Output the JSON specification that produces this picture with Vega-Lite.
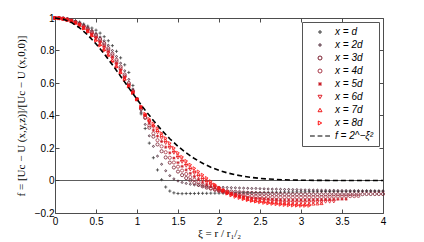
{
"$schema": "https://vega.github.io/schema/vega-lite/v6.json",
"autosize": "none",
"width": 328,
"height": 195,
"padding": {"left": 55, "top": 18, "right": 41, "bottom": 29},
"background": "white",
"config": {
 "view": {"stroke": "#4d4d4d", "strokeWidth": 1},
 "axis": {"labelFont": "Liberation Sans", "labelFontSize": 10, "labelColor": "#000", "tickColor": "#4d4d4d", "domain": false, "grid": false, "tickSize": -4, "titleFont": "Liberation Serif", "titleFontWeight": "normal", "titleFontSize": 11, "titleColor": "#000"}
},
"datasets": {
 "pts": [
{"s":"d","x":0,"f":1},{"s":"d","x":0.05,"f":0.999},{"s":"d","x":0.1,"f":0.998},{"s":"d","x":0.15,"f":0.995},{"s":"d","x":0.2,"f":0.99},{"s":"d","x":0.25,"f":0.983},{"s":"d","x":0.3,"f":0.975},{"s":"d","x":0.35,"f":0.963},{"s":"d","x":0.4,"f":0.95},{"s":"d","x":0.45,"f":0.938},{"s":"d","x":0.5,"f":0.925},{"s":"d","x":0.55,"f":0.907},{"s":"d","x":0.6,"f":0.885},{"s":"d","x":0.65,"f":0.86},{"s":"d","x":0.7,"f":0.83},{"s":"d","x":0.75,"f":0.795},{"s":"d","x":0.8,"f":0.755},{"s":"d","x":0.85,"f":0.712},{"s":"d","x":0.9,"f":0.665},{"s":"d","x":0.95,"f":0.585},{"s":"d","x":1,"f":0.5},{"s":"d","x":1.05,"f":0.41},{"s":"d","x":1.1,"f":0.32},{"s":"d","x":1.15,"f":0.23},{"s":"d","x":1.2,"f":0.14},{"s":"d","x":1.25,"f":0.065},{"s":"d","x":1.3,"f":0.005},{"s":"d","x":1.35,"f":-0.04},{"s":"d","x":1.4,"f":-0.065},{"s":"d","x":1.45,"f":-0.076},{"s":"d","x":1.5,"f":-0.08},{"s":"d","x":1.55,"f":-0.081},{"s":"d","x":1.6,"f":-0.08},{"s":"d","x":1.65,"f":-0.08},{"s":"d","x":1.7,"f":-0.08},{"s":"d","x":1.75,"f":-0.079},{"s":"d","x":1.8,"f":-0.079},{"s":"d","x":1.85,"f":-0.079},{"s":"d","x":1.9,"f":-0.078},{"s":"d","x":1.95,"f":-0.078},{"s":"d","x":2,"f":-0.078},{"s":"d","x":2.05,"f":-0.078},{"s":"d","x":2.1,"f":-0.077},{"s":"d","x":2.15,"f":-0.077},{"s":"d","x":2.2,"f":-0.076},{"s":"d","x":2.25,"f":-0.076},{"s":"d","x":2.3,"f":-0.075},{"s":"d","x":2.35,"f":-0.075},{"s":"d","x":2.4,"f":-0.075},{"s":"d","x":2.45,"f":-0.074},{"s":"d","x":2.5,"f":-0.074},{"s":"d","x":2.55,"f":-0.073},{"s":"d","x":2.6,"f":-0.073},{"s":"d","x":2.65,"f":-0.072},{"s":"d","x":2.7,"f":-0.072},{"s":"d","x":2.75,"f":-0.072},{"s":"d","x":2.8,"f":-0.071},{"s":"d","x":2.85,"f":-0.071},{"s":"d","x":2.9,"f":-0.071},{"s":"d","x":2.95,"f":-0.07},{"s":"d","x":3,"f":-0.07},{"s":"d","x":3.05,"f":-0.07},{"s":"d","x":3.1,"f":-0.069},{"s":"d","x":3.15,"f":-0.069},{"s":"d","x":3.2,"f":-0.069},{"s":"d","x":3.25,"f":-0.068},{"s":"d","x":3.3,"f":-0.068},{"s":"d","x":3.35,"f":-0.068},{"s":"d","x":3.4,"f":-0.067},{"s":"d","x":3.45,"f":-0.067},{"s":"d","x":3.5,"f":-0.067},{"s":"d","x":3.55,"f":-0.067},{"s":"d","x":3.6,"f":-0.066},{"s":"d","x":3.65,"f":-0.066},{"s":"d","x":3.7,"f":-0.066},{"s":"d","x":3.75,"f":-0.066},{"s":"d","x":3.8,"f":-0.065},{"s":"d","x":3.85,"f":-0.065},{"s":"d","x":3.9,"f":-0.065},{"s":"d","x":3.95,"f":-0.065},{"s":"d","x":4,"f":-0.065},
{"s":"2d","x":0,"f":1},{"s":"2d","x":0.05,"f":0.999},{"s":"2d","x":0.1,"f":0.997},{"s":"2d","x":0.15,"f":0.993},{"s":"2d","x":0.2,"f":0.987},{"s":"2d","x":0.25,"f":0.98},{"s":"2d","x":0.3,"f":0.97},{"s":"2d","x":0.35,"f":0.956},{"s":"2d","x":0.4,"f":0.94},{"s":"2d","x":0.45,"f":0.923},{"s":"2d","x":0.5,"f":0.905},{"s":"2d","x":0.55,"f":0.883},{"s":"2d","x":0.6,"f":0.86},{"s":"2d","x":0.65,"f":0.832},{"s":"2d","x":0.7,"f":0.8},{"s":"2d","x":0.75,"f":0.763},{"s":"2d","x":0.8,"f":0.722},{"s":"2d","x":0.85,"f":0.675},{"s":"2d","x":0.9,"f":0.622},{"s":"2d","x":0.95,"f":0.563},{"s":"2d","x":1,"f":0.5},{"s":"2d","x":1.05,"f":0.42},{"s":"2d","x":1.1,"f":0.345},{"s":"2d","x":1.15,"f":0.275},{"s":"2d","x":1.2,"f":0.21},{"s":"2d","x":1.25,"f":0.15},{"s":"2d","x":1.3,"f":0.1},{"s":"2d","x":1.35,"f":0.06},{"s":"2d","x":1.4,"f":0.03},{"s":"2d","x":1.45,"f":0.01},{"s":"2d","x":1.5,"f":-0.003},{"s":"2d","x":1.55,"f":-0.012},{"s":"2d","x":1.6,"f":-0.018},{"s":"2d","x":1.65,"f":-0.023},{"s":"2d","x":1.7,"f":-0.027},{"s":"2d","x":1.75,"f":-0.031},{"s":"2d","x":1.8,"f":-0.034},{"s":"2d","x":1.85,"f":-0.036},{"s":"2d","x":1.9,"f":-0.038},{"s":"2d","x":1.95,"f":-0.04},{"s":"2d","x":2,"f":-0.041},{"s":"2d","x":2.05,"f":-0.042},{"s":"2d","x":2.1,"f":-0.043},{"s":"2d","x":2.15,"f":-0.044},{"s":"2d","x":2.2,"f":-0.045},{"s":"2d","x":2.25,"f":-0.046},{"s":"2d","x":2.3,"f":-0.047},{"s":"2d","x":2.35,"f":-0.048},{"s":"2d","x":2.4,"f":-0.049},{"s":"2d","x":2.45,"f":-0.049},{"s":"2d","x":2.5,"f":-0.05},{"s":"2d","x":2.55,"f":-0.051},{"s":"2d","x":2.6,"f":-0.052},{"s":"2d","x":2.65,"f":-0.053},{"s":"2d","x":2.7,"f":-0.053},{"s":"2d","x":2.75,"f":-0.054},{"s":"2d","x":2.8,"f":-0.055},{"s":"2d","x":2.85,"f":-0.055},{"s":"2d","x":2.9,"f":-0.056},{"s":"2d","x":2.95,"f":-0.056},{"s":"2d","x":3,"f":-0.057},{"s":"2d","x":3.05,"f":-0.058},{"s":"2d","x":3.1,"f":-0.058},{"s":"2d","x":3.15,"f":-0.059},{"s":"2d","x":3.2,"f":-0.059},{"s":"2d","x":3.25,"f":-0.06},{"s":"2d","x":3.3,"f":-0.06},{"s":"2d","x":3.35,"f":-0.061},{"s":"2d","x":3.4,"f":-0.061},{"s":"2d","x":3.45,"f":-0.062},{"s":"2d","x":3.5,"f":-0.062},{"s":"2d","x":3.55,"f":-0.062},{"s":"2d","x":3.6,"f":-0.063},{"s":"2d","x":3.65,"f":-0.063},{"s":"2d","x":3.7,"f":-0.063},{"s":"2d","x":3.75,"f":-0.064},{"s":"2d","x":3.8,"f":-0.064},{"s":"2d","x":3.85,"f":-0.064},{"s":"2d","x":3.9,"f":-0.065},{"s":"2d","x":3.95,"f":-0.065},{"s":"2d","x":4,"f":-0.065},
{"s":"3d","x":0,"f":1},{"s":"3d","x":0.05,"f":0.999},{"s":"3d","x":0.1,"f":0.997},{"s":"3d","x":0.15,"f":0.992},{"s":"3d","x":0.2,"f":0.985},{"s":"3d","x":0.25,"f":0.976},{"s":"3d","x":0.3,"f":0.965},{"s":"3d","x":0.35,"f":0.951},{"s":"3d","x":0.4,"f":0.935},{"s":"3d","x":0.45,"f":0.916},{"s":"3d","x":0.5,"f":0.895},{"s":"3d","x":0.55,"f":0.871},{"s":"3d","x":0.6,"f":0.845},{"s":"3d","x":0.65,"f":0.814},{"s":"3d","x":0.7,"f":0.78},{"s":"3d","x":0.75,"f":0.742},{"s":"3d","x":0.8,"f":0.7},{"s":"3d","x":0.85,"f":0.652},{"s":"3d","x":0.9,"f":0.6},{"s":"3d","x":0.95,"f":0.552},{"s":"3d","x":1,"f":0.5},{"s":"3d","x":1.05,"f":0.44},{"s":"3d","x":1.1,"f":0.385},{"s":"3d","x":1.15,"f":0.325},{"s":"3d","x":1.2,"f":0.27},{"s":"3d","x":1.25,"f":0.222},{"s":"3d","x":1.3,"f":0.18},{"s":"3d","x":1.35,"f":0.142},{"s":"3d","x":1.4,"f":0.11},{"s":"3d","x":1.45,"f":0.08},{"s":"3d","x":1.5,"f":0.055},{"s":"3d","x":1.55,"f":0.033},{"s":"3d","x":1.6,"f":0.015},{"s":"3d","x":1.65,"f":0},{"s":"3d","x":1.7,"f":-0.015},{"s":"3d","x":1.75,"f":-0.026},{"s":"3d","x":1.8,"f":-0.036},{"s":"3d","x":1.85,"f":-0.044},{"s":"3d","x":1.9,"f":-0.05},{"s":"3d","x":1.95,"f":-0.055},{"s":"3d","x":2,"f":-0.06},{"s":"3d","x":2.05,"f":-0.063},{"s":"3d","x":2.1,"f":-0.066},{"s":"3d","x":2.15,"f":-0.068},{"s":"3d","x":2.2,"f":-0.07},{"s":"3d","x":2.25,"f":-0.072},{"s":"3d","x":2.3,"f":-0.074},{"s":"3d","x":2.35,"f":-0.076},{"s":"3d","x":2.4,"f":-0.077},{"s":"3d","x":2.45,"f":-0.079},{"s":"3d","x":2.5,"f":-0.08},{"s":"3d","x":2.55,"f":-0.081},{"s":"3d","x":2.6,"f":-0.082},{"s":"3d","x":2.65,"f":-0.083},{"s":"3d","x":2.7,"f":-0.083},{"s":"3d","x":2.75,"f":-0.084},{"s":"3d","x":2.8,"f":-0.084},{"s":"3d","x":2.85,"f":-0.085},{"s":"3d","x":2.9,"f":-0.085},{"s":"3d","x":2.95,"f":-0.085},{"s":"3d","x":3,"f":-0.085},{"s":"3d","x":3.05,"f":-0.085},{"s":"3d","x":3.1,"f":-0.085},{"s":"3d","x":3.15,"f":-0.085},{"s":"3d","x":3.2,"f":-0.085},{"s":"3d","x":3.25,"f":-0.085},{"s":"3d","x":3.3,"f":-0.085},{"s":"3d","x":3.35,"f":-0.085},{"s":"3d","x":3.4,"f":-0.085},{"s":"3d","x":3.45,"f":-0.085},{"s":"3d","x":3.5,"f":-0.085},{"s":"3d","x":3.55,"f":-0.085},{"s":"3d","x":3.6,"f":-0.084},{"s":"3d","x":3.65,"f":-0.084},{"s":"3d","x":3.7,"f":-0.084},{"s":"3d","x":3.75,"f":-0.084},{"s":"3d","x":3.8,"f":-0.083},{"s":"3d","x":3.85,"f":-0.083},{"s":"3d","x":3.9,"f":-0.083},{"s":"3d","x":3.95,"f":-0.083},{"s":"3d","x":4,"f":-0.083},
{"s":"4d","x":0,"f":1},{"s":"4d","x":0.05,"f":0.999},{"s":"4d","x":0.1,"f":0.996},{"s":"4d","x":0.15,"f":0.991},{"s":"4d","x":0.2,"f":0.984},{"s":"4d","x":0.25,"f":0.974},{"s":"4d","x":0.3,"f":0.962},{"s":"4d","x":0.35,"f":0.947},{"s":"4d","x":0.4,"f":0.93},{"s":"4d","x":0.45,"f":0.909},{"s":"4d","x":0.5,"f":0.885},{"s":"4d","x":0.55,"f":0.861},{"s":"4d","x":0.6,"f":0.835},{"s":"4d","x":0.65,"f":0.804},{"s":"4d","x":0.7,"f":0.77},{"s":"4d","x":0.75,"f":0.731},{"s":"4d","x":0.8,"f":0.69},{"s":"4d","x":0.85,"f":0.642},{"s":"4d","x":0.9,"f":0.59},{"s":"4d","x":0.95,"f":0.546},{"s":"4d","x":1,"f":0.5},{"s":"4d","x":1.05,"f":0.445},{"s":"4d","x":1.1,"f":0.39},{"s":"4d","x":1.15,"f":0.338},{"s":"4d","x":1.2,"f":0.29},{"s":"4d","x":1.25,"f":0.248},{"s":"4d","x":1.3,"f":0.21},{"s":"4d","x":1.35,"f":0.174},{"s":"4d","x":1.4,"f":0.14},{"s":"4d","x":1.45,"f":0.111},{"s":"4d","x":1.5,"f":0.085},{"s":"4d","x":1.55,"f":0.061},{"s":"4d","x":1.6,"f":0.04},{"s":"4d","x":1.65,"f":0.021},{"s":"4d","x":1.7,"f":0.005},{"s":"4d","x":1.75,"f":-0.01},{"s":"4d","x":1.8,"f":-0.025},{"s":"4d","x":1.85,"f":-0.037},{"s":"4d","x":1.9,"f":-0.047},{"s":"4d","x":1.95,"f":-0.057},{"s":"4d","x":2,"f":-0.065},{"s":"4d","x":2.05,"f":-0.071},{"s":"4d","x":2.1,"f":-0.076},{"s":"4d","x":2.15,"f":-0.081},{"s":"4d","x":2.2,"f":-0.085},{"s":"4d","x":2.25,"f":-0.088},{"s":"4d","x":2.3,"f":-0.091},{"s":"4d","x":2.35,"f":-0.094},{"s":"4d","x":2.4,"f":-0.096},{"s":"4d","x":2.45,"f":-0.098},{"s":"4d","x":2.5,"f":-0.1},{"s":"4d","x":2.55,"f":-0.101},{"s":"4d","x":2.6,"f":-0.102},{"s":"4d","x":2.65,"f":-0.103},{"s":"4d","x":2.7,"f":-0.104},{"s":"4d","x":2.75,"f":-0.104},{"s":"4d","x":2.8,"f":-0.105},{"s":"4d","x":2.85,"f":-0.105},{"s":"4d","x":2.9,"f":-0.105},{"s":"4d","x":2.95,"f":-0.105},{"s":"4d","x":3,"f":-0.105},{"s":"4d","x":3.05,"f":-0.104},{"s":"4d","x":3.1,"f":-0.104},{"s":"4d","x":3.15,"f":-0.103},{"s":"4d","x":3.2,"f":-0.103},{"s":"4d","x":3.25,"f":-0.102},{"s":"4d","x":3.3,"f":-0.101},{"s":"4d","x":3.35,"f":-0.1},{"s":"4d","x":3.4,"f":-0.099},{"s":"4d","x":3.45,"f":-0.098},{"s":"4d","x":3.5,"f":-0.098},{"s":"4d","x":3.55,"f":-0.097},{"s":"4d","x":3.6,"f":-0.096},{"s":"4d","x":3.65,"f":-0.096},{"s":"4d","x":3.7,"f":-0.095},
{"s":"5d","x":0,"f":1},{"s":"5d","x":0.05,"f":0.999},{"s":"5d","x":0.1,"f":0.996},{"s":"5d","x":0.15,"f":0.99},{"s":"5d","x":0.2,"f":0.983},{"s":"5d","x":0.25,"f":0.972},{"s":"5d","x":0.3,"f":0.96},{"s":"5d","x":0.35,"f":0.944},{"s":"5d","x":0.4,"f":0.925},{"s":"5d","x":0.45,"f":0.903},{"s":"5d","x":0.5,"f":0.88},{"s":"5d","x":0.55,"f":0.854},{"s":"5d","x":0.6,"f":0.825},{"s":"5d","x":0.65,"f":0.794},{"s":"5d","x":0.7,"f":0.76},{"s":"5d","x":0.75,"f":0.721},{"s":"5d","x":0.8,"f":0.68},{"s":"5d","x":0.85,"f":0.635},{"s":"5d","x":0.9,"f":0.585},{"s":"5d","x":0.95,"f":0.543},{"s":"5d","x":1,"f":0.5},{"s":"5d","x":1.05,"f":0.45},{"s":"5d","x":1.1,"f":0.4},{"s":"5d","x":1.15,"f":0.353},{"s":"5d","x":1.2,"f":0.31},{"s":"5d","x":1.25,"f":0.273},{"s":"5d","x":1.3,"f":0.24},{"s":"5d","x":1.35,"f":0.205},{"s":"5d","x":1.4,"f":0.17},{"s":"5d","x":1.45,"f":0.138},{"s":"5d","x":1.5,"f":0.11},{"s":"5d","x":1.55,"f":0.087},{"s":"5d","x":1.6,"f":0.065},{"s":"5d","x":1.65,"f":0.044},{"s":"5d","x":1.7,"f":0.025},{"s":"5d","x":1.75,"f":0.007},{"s":"5d","x":1.8,"f":-0.01},{"s":"5d","x":1.85,"f":-0.024},{"s":"5d","x":1.9,"f":-0.037},{"s":"5d","x":1.95,"f":-0.049},{"s":"5d","x":2,"f":-0.06},{"s":"5d","x":2.05,"f":-0.069},{"s":"5d","x":2.1,"f":-0.077},{"s":"5d","x":2.15,"f":-0.084},{"s":"5d","x":2.2,"f":-0.09},{"s":"5d","x":2.25,"f":-0.095},{"s":"5d","x":2.3,"f":-0.1},{"s":"5d","x":2.35,"f":-0.104},{"s":"5d","x":2.4,"f":-0.107},{"s":"5d","x":2.45,"f":-0.109},{"s":"5d","x":2.5,"f":-0.11},{"s":"5d","x":2.55,"f":-0.112},{"s":"5d","x":2.6,"f":-0.114},{"s":"5d","x":2.65,"f":-0.116},{"s":"5d","x":2.7,"f":-0.117},{"s":"5d","x":2.75,"f":-0.119},{"s":"5d","x":2.8,"f":-0.12},{"s":"5d","x":2.85,"f":-0.12},{"s":"5d","x":2.9,"f":-0.12},{"s":"5d","x":2.95,"f":-0.12},{"s":"5d","x":3,"f":-0.12},{"s":"5d","x":3.05,"f":-0.12},{"s":"5d","x":3.1,"f":-0.119},{"s":"5d","x":3.15,"f":-0.119},{"s":"5d","x":3.2,"f":-0.118},{"s":"5d","x":3.25,"f":-0.118},{"s":"5d","x":3.3,"f":-0.117},{"s":"5d","x":3.35,"f":-0.117},{"s":"5d","x":3.4,"f":-0.116},{"s":"5d","x":3.45,"f":-0.116},{"s":"5d","x":3.5,"f":-0.115},{"s":"5d","x":3.55,"f":-0.115},
{"s":"6d","x":0,"f":1},{"s":"6d","x":0.05,"f":0.999},{"s":"6d","x":0.1,"f":0.995},{"s":"6d","x":0.15,"f":0.99},{"s":"6d","x":0.2,"f":0.982},{"s":"6d","x":0.25,"f":0.971},{"s":"6d","x":0.3,"f":0.958},{"s":"6d","x":0.35,"f":0.94},{"s":"6d","x":0.4,"f":0.92},{"s":"6d","x":0.45,"f":0.898},{"s":"6d","x":0.5,"f":0.875},{"s":"6d","x":0.55,"f":0.846},{"s":"6d","x":0.6,"f":0.815},{"s":"6d","x":0.65,"f":0.783},{"s":"6d","x":0.7,"f":0.75},{"s":"6d","x":0.75,"f":0.713},{"s":"6d","x":0.8,"f":0.675},{"s":"6d","x":0.85,"f":0.632},{"s":"6d","x":0.9,"f":0.585},{"s":"6d","x":0.95,"f":0.543},{"s":"6d","x":1,"f":0.5},{"s":"6d","x":1.05,"f":0.45},{"s":"6d","x":1.1,"f":0.4},{"s":"6d","x":1.15,"f":0.363},{"s":"6d","x":1.2,"f":0.33},{"s":"6d","x":1.25,"f":0.295},{"s":"6d","x":1.3,"f":0.26},{"s":"6d","x":1.35,"f":0.23},{"s":"6d","x":1.4,"f":0.2},{"s":"6d","x":1.45,"f":0.17},{"s":"6d","x":1.5,"f":0.14},{"s":"6d","x":1.55,"f":0.114},{"s":"6d","x":1.6,"f":0.09},{"s":"6d","x":1.65,"f":0.067},{"s":"6d","x":1.7,"f":0.045},{"s":"6d","x":1.75,"f":0.024},{"s":"6d","x":1.8,"f":0.005},{"s":"6d","x":1.85,"f":-0.011},{"s":"6d","x":1.9,"f":-0.025},{"s":"6d","x":1.95,"f":-0.038},{"s":"6d","x":2,"f":-0.05},{"s":"6d","x":2.05,"f":-0.061},{"s":"6d","x":2.1,"f":-0.071},{"s":"6d","x":2.15,"f":-0.081},{"s":"6d","x":2.2,"f":-0.09},{"s":"6d","x":2.25,"f":-0.097},{"s":"6d","x":2.3,"f":-0.104},{"s":"6d","x":2.35,"f":-0.11},{"s":"6d","x":2.4,"f":-0.115},{"s":"6d","x":2.45,"f":-0.118},{"s":"6d","x":2.5,"f":-0.12},{"s":"6d","x":2.55,"f":-0.123},{"s":"6d","x":2.6,"f":-0.126},{"s":"6d","x":2.65,"f":-0.129},{"s":"6d","x":2.7,"f":-0.131},{"s":"6d","x":2.75,"f":-0.133},{"s":"6d","x":2.8,"f":-0.135},{"s":"6d","x":2.85,"f":-0.135},{"s":"6d","x":2.9,"f":-0.135},{"s":"6d","x":2.95,"f":-0.135},{"s":"6d","x":3,"f":-0.135},{"s":"6d","x":3.05,"f":-0.135},{"s":"6d","x":3.1,"f":-0.134},{"s":"6d","x":3.15,"f":-0.134},{"s":"6d","x":3.2,"f":-0.133},{"s":"6d","x":3.25,"f":-0.132},{"s":"6d","x":3.3,"f":-0.131},{"s":"6d","x":3.35,"f":-0.131},{"s":"6d","x":3.4,"f":-0.13},
{"s":"7d","x":0,"f":1},{"s":"7d","x":0.05,"f":0.999},{"s":"7d","x":0.1,"f":0.995},{"s":"7d","x":0.15,"f":0.989},{"s":"7d","x":0.2,"f":0.981},{"s":"7d","x":0.25,"f":0.97},{"s":"7d","x":0.3,"f":0.957},{"s":"7d","x":0.35,"f":0.938},{"s":"7d","x":0.4,"f":0.918},{"s":"7d","x":0.45,"f":0.894},{"s":"7d","x":0.5,"f":0.868},{"s":"7d","x":0.55,"f":0.839},{"s":"7d","x":0.6,"f":0.808},{"s":"7d","x":0.65,"f":0.775},{"s":"7d","x":0.7,"f":0.74},{"s":"7d","x":0.75,"f":0.705},{"s":"7d","x":0.8,"f":0.668},{"s":"7d","x":0.85,"f":0.626},{"s":"7d","x":0.9,"f":0.582},{"s":"7d","x":0.95,"f":0.541},{"s":"7d","x":1,"f":0.5},{"s":"7d","x":1.05,"f":0.452},{"s":"7d","x":1.1,"f":0.405},{"s":"7d","x":1.15,"f":0.371},{"s":"7d","x":1.2,"f":0.34},{"s":"7d","x":1.25,"f":0.31},{"s":"7d","x":1.3,"f":0.28},{"s":"7d","x":1.35,"f":0.247},{"s":"7d","x":1.4,"f":0.215},{"s":"7d","x":1.45,"f":0.184},{"s":"7d","x":1.5,"f":0.155},{"s":"7d","x":1.55,"f":0.129},{"s":"7d","x":1.6,"f":0.105},{"s":"7d","x":1.65,"f":0.082},{"s":"7d","x":1.7,"f":0.06},{"s":"7d","x":1.75,"f":0.04},{"s":"7d","x":1.8,"f":0.02},{"s":"7d","x":1.85,"f":0.002},{"s":"7d","x":1.9,"f":-0.015},{"s":"7d","x":1.95,"f":-0.03},{"s":"7d","x":2,"f":-0.045},{"s":"7d","x":2.05,"f":-0.058},{"s":"7d","x":2.1,"f":-0.07},{"s":"7d","x":2.15,"f":-0.081},{"s":"7d","x":2.2,"f":-0.09},{"s":"7d","x":2.25,"f":-0.099},{"s":"7d","x":2.3,"f":-0.107},{"s":"7d","x":2.35,"f":-0.114},{"s":"7d","x":2.4,"f":-0.12},{"s":"7d","x":2.45,"f":-0.123},{"s":"7d","x":2.5,"f":-0.125},{"s":"7d","x":2.55,"f":-0.128},{"s":"7d","x":2.6,"f":-0.131},{"s":"7d","x":2.65,"f":-0.134},{"s":"7d","x":2.7,"f":-0.136},{"s":"7d","x":2.75,"f":-0.138},{"s":"7d","x":2.8,"f":-0.14},{"s":"7d","x":2.85,"f":-0.142},{"s":"7d","x":2.9,"f":-0.143},{"s":"7d","x":2.95,"f":-0.144},{"s":"7d","x":3,"f":-0.145},{"s":"7d","x":3.05,"f":-0.145},{"s":"7d","x":3.1,"f":-0.144},{"s":"7d","x":3.15,"f":-0.143},{"s":"7d","x":3.2,"f":-0.142},{"s":"7d","x":3.25,"f":-0.14},
{"s":"8d","x":0,"f":1},{"s":"8d","x":0.05,"f":0.999},{"s":"8d","x":0.1,"f":0.995},{"s":"8d","x":0.15,"f":0.988},{"s":"8d","x":0.2,"f":0.98},{"s":"8d","x":0.25,"f":0.969},{"s":"8d","x":0.3,"f":0.955},{"s":"8d","x":0.35,"f":0.936},{"s":"8d","x":0.4,"f":0.915},{"s":"8d","x":0.45,"f":0.889},{"s":"8d","x":0.5,"f":0.86},{"s":"8d","x":0.55,"f":0.831},{"s":"8d","x":0.6,"f":0.8},{"s":"8d","x":0.65,"f":0.766},{"s":"8d","x":0.7,"f":0.73},{"s":"8d","x":0.75,"f":0.696},{"s":"8d","x":0.8,"f":0.66},{"s":"8d","x":0.85,"f":0.62},{"s":"8d","x":0.9,"f":0.58},{"s":"8d","x":0.95,"f":0.54},{"s":"8d","x":1,"f":0.5},{"s":"8d","x":1.05,"f":0.455},{"s":"8d","x":1.1,"f":0.41},{"s":"8d","x":1.15,"f":0.378},{"s":"8d","x":1.2,"f":0.35},{"s":"8d","x":1.25,"f":0.32},{"s":"8d","x":1.3,"f":0.29},{"s":"8d","x":1.35,"f":0.26},{"s":"8d","x":1.4,"f":0.23},{"s":"8d","x":1.45,"f":0.2},{"s":"8d","x":1.5,"f":0.17},{"s":"8d","x":1.55,"f":0.145},{"s":"8d","x":1.6,"f":0.12},{"s":"8d","x":1.65,"f":0.097},{"s":"8d","x":1.7,"f":0.075},{"s":"8d","x":1.75,"f":0.055},{"s":"8d","x":1.8,"f":0.035},{"s":"8d","x":1.85,"f":0.015},{"s":"8d","x":1.9,"f":-0.005},{"s":"8d","x":1.95,"f":-0.025},{"s":"8d","x":2,"f":-0.045},{"s":"8d","x":2.05,"f":-0.063},{"s":"8d","x":2.1,"f":-0.08},{"s":"8d","x":2.15,"f":-0.091},{"s":"8d","x":2.2,"f":-0.1},{"s":"8d","x":2.25,"f":-0.107},{"s":"8d","x":2.3,"f":-0.114},{"s":"8d","x":2.35,"f":-0.12},{"s":"8d","x":2.4,"f":-0.125},{"s":"8d","x":2.45,"f":-0.129},{"s":"8d","x":2.5,"f":-0.133},{"s":"8d","x":2.55,"f":-0.137},{"s":"8d","x":2.6,"f":-0.14},{"s":"8d","x":2.65,"f":-0.143},{"s":"8d","x":2.7,"f":-0.145},{"s":"8d","x":2.75,"f":-0.148},{"s":"8d","x":2.8,"f":-0.15},{"s":"8d","x":2.85,"f":-0.152},{"s":"8d","x":2.9,"f":-0.153},{"s":"8d","x":2.95,"f":-0.154},{"s":"8d","x":3,"f":-0.155},{"s":"8d","x":3.05,"f":-0.155},{"s":"8d","x":3.1,"f":-0.155}
 ],
 "gauss": [
{"x":0,"f":1},{"x":0.1,"f":0.993},{"x":0.2,"f":0.973},{"x":0.3,"f":0.939},{"x":0.4,"f":0.895},{"x":0.5,"f":0.841},{"x":0.6,"f":0.779},{"x":0.7,"f":0.712},{"x":0.8,"f":0.642},{"x":0.9,"f":0.57},{"x":1,"f":0.5},{"x":1.1,"f":0.432},{"x":1.2,"f":0.369},{"x":1.3,"f":0.31},{"x":1.4,"f":0.257},{"x":1.5,"f":0.21},{"x":1.6,"f":0.17},{"x":1.7,"f":0.135},{"x":1.8,"f":0.106},{"x":1.9,"f":0.082},{"x":2,"f":0.0625},{"x":2.1,"f":0.047},{"x":2.2,"f":0.035},{"x":2.3,"f":0.026},{"x":2.4,"f":0.0185},{"x":2.5,"f":0.013},{"x":2.6,"f":0.0092},{"x":2.7,"f":0.0064},{"x":2.8,"f":0.0044},{"x":2.9,"f":0.003},{"x":3,"f":0.002},{"x":3.2,"f":0.0008},{"x":3.4,"f":0.0003},{"x":3.6,"f":0.0001},{"x":3.8,"f":0},{"x":4,"f":0}
 ],
 "zero": [{"z":0}]
},
"layer": [
 {
  "data": {"name": "zero"},
  "mark": {"type": "rule", "color": "#333333", "strokeWidth": 0.8},
  "encoding": {"y": {"field": "z", "type": "quantitative", "scale": {"domain": [-0.2, 1], "nice": false, "zero": false}, "axis": null}}
 },
 {
  "data": {"name": "pts"},
  "mark": {"type": "point", "filled": false, "size": 10, "strokeWidth": 0.8, "opacity": 1},
  "encoding": {
   "x": {"field": "x", "type": "quantitative", "scale": {"domain": [0, 4], "nice": false, "zero": false},
     "axis": {"values": [0,0.5,1,1.5,2,2.5,3,3.5,4], "format": "~g", "labelPadding": 7, "title": "ξ = r / r₁/₂", "titleX": 164, "titleY": 23, "titleBaseline": "alphabetic", "labelFlush": false}},
   "y": {"field": "f", "type": "quantitative", "scale": {"domain": [-0.2, 1], "nice": false, "zero": false},
     "axis": {"values": [-0.2,0,0.2,0.4,0.6,0.8,1], "format": "~g", "labelPadding": 5, "title": "f = [Uc − U (x,y,z)]/[Uc − U (x,0,0)]", "titleX": -34, "titleY": 97.5, "titleAngle": -90, "titleAlign": "center", "titleBaseline": "middle", "labelFlush": false}},
   "color": {"field": "s", "type": "nominal",
     "scale": {"domain": ["d","2d","3d","4d","5d","6d","7d","8d","g"], "range": ["#3c3c3c","#401828","#7a1e2e","#a83848","#c81e28","#e01e28","#f01818","#ff1010","#000000"]},
     "legend": {"title": null, "orient": "top-right", "offset": 4, "padding": 5, "strokeColor": "#555555", "fillColor": "white", "labelFont": "Liberation Sans", "labelFontSize": 10, "labelFontStyle": "italic", "labelColor": "#000", "symbolSize": 16, "symbolStrokeWidth": 1, "rowPadding": 3, "labelOffset": 10, "symbolOffset": 8, "labelExpr": "datum.label == 'g' ? 'f = 2^−ξ²' : 'x = ' + datum.label"}},
   "shape": {"field": "s", "type": "nominal",
     "scale": {"domain": ["d","2d","3d","4d","5d","6d","7d","8d","g"], "range": ["M-1,0H1M0,-1V1","M-0.6,0A0.6,0.6 0 1,0 0.6,0A0.6,0.6 0 1,0 -0.6,0","circle","circle","M-1,0H1M0,-1V1M-0.7,-0.7L0.7,0.7M-0.7,0.7L0.7,-0.7","triangle-down","triangle-up","triangle-right","M-5,0H-2.6M-1.2,0H1.2M2.6,0H5"]},
     "legend": {"title": null, "orient": "top-right", "offset": 4, "padding": 5, "strokeColor": "#555555", "fillColor": "white", "labelFont": "Liberation Sans", "labelFontSize": 10, "labelFontStyle": "italic", "labelColor": "#000", "symbolSize": 16, "symbolStrokeWidth": 1, "rowPadding": 3, "labelOffset": 10, "symbolOffset": 8, "labelExpr": "datum.label == 'g' ? 'f = 2^−ξ²' : 'x = ' + datum.label"}}
  }
 },
 {
  "data": {"name": "gauss"},
  "mark": {"type": "line", "color": "#000000", "strokeWidth": 1.6, "strokeDash": [5, 3]},
  "encoding": {
   "x": {"field": "x", "type": "quantitative", "scale": {"domain": [0, 4], "nice": false, "zero": false}, "axis": {"orient": "top", "labels": false, "title": null, "values": [0,0.5,1,1.5,2,2.5,3,3.5,4]}},
   "y": {"field": "f", "type": "quantitative", "scale": {"domain": [-0.2, 1], "nice": false, "zero": false}, "axis": {"orient": "right", "labels": false, "title": null, "values": [-0.2,0,0.2,0.4,0.6,0.8,1]}}
  }
 }
],
"resolve": {"axis": {"x": "independent", "y": "independent"}}
}
